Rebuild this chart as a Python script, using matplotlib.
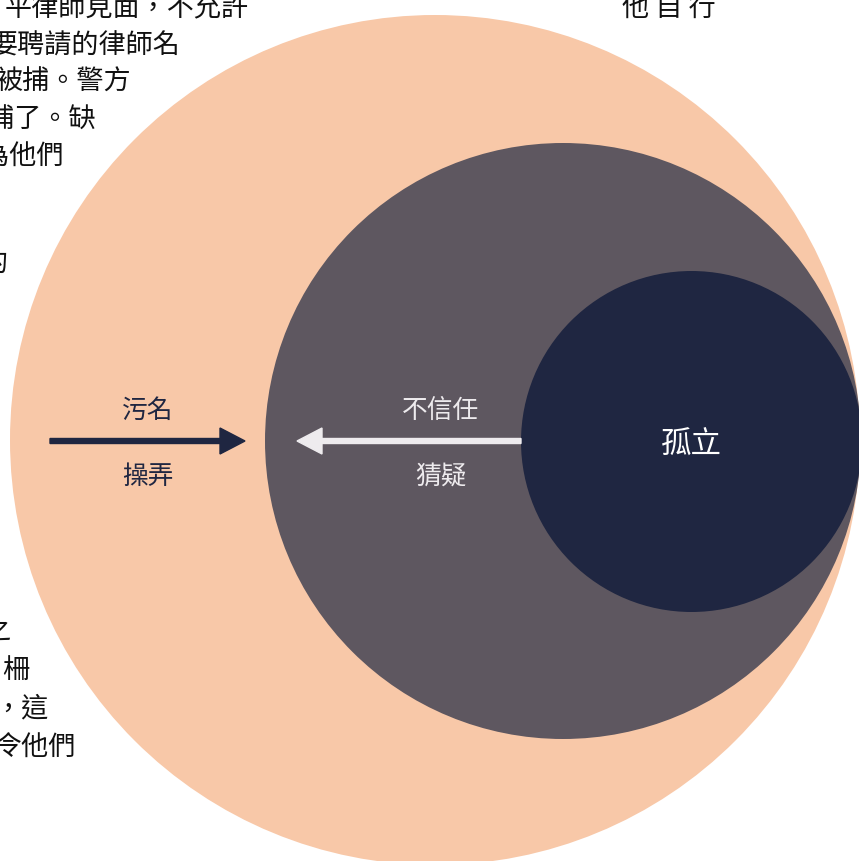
import matplotlib
matplotlib.use("Agg")
import matplotlib.pyplot as plt
from matplotlib.patches import Circle

plt.rcParams['font.family'] = ['Noto Sans CJK TC', 'DejaVu Sans']

# ---- content ----
circle_names = ["外圈", "中圈", "孤立"]
circle_colors = ["#F8C8A8", "#5E5760", "#1F2641"]
outer_labels = ["污名", "操弄"]
middle_labels = ["不信任", "猜疑"]
center_label = "孤立"
left_top_lines = ["平律師見面，不允許", "要聘請的律師名", "被捕。警方", "逮捕了。缺", "認為他們", "的"]
left_bottom_lines = ["之", "柵", "，這", "令他們"]
right_top_text = "他 自 行"

W, H = 859, 861
fig = plt.figure(figsize=(W / 100, H / 100), dpi=100)
ax = fig.add_axes([0, 0, 1, 1])
ax.set_xlim(0, W)
ax.set_ylim(H, 0)
ax.axis("off")

# circles (layout)
geo = [(435, 440, 425), (563, 441, 298), (691.5, 441.5, 170.5)]
for (cx, cy, r), col in zip(geo, circle_colors):
    ax.add_patch(Circle((cx, cy), r, facecolor=col, edgecolor="none", zorder=1))

# arrows
ax.arrow(50, 441, 195, 0, width=5, head_width=26, head_length=25,
         length_includes_head=True, color="#1F2641", zorder=3)
ax.arrow(521, 441, -224, 0, width=5, head_width=26, head_length=25,
         length_includes_head=True, color="#EEEBEE", zorder=3)

fs = 18.5
ax.text(148, 411, outer_labels[0], ha="center", va="center", fontsize=fs, color="#1F2641", zorder=4)
ax.text(148, 477, outer_labels[1], ha="center", va="center", fontsize=fs, color="#1F2641", zorder=4)
ax.text(441, 411, middle_labels[0], ha="center", va="center", fontsize=fs, color="#EEEBEE", zorder=4)
ax.text(441, 477, middle_labels[1], ha="center", va="center", fontsize=fs, color="#EEEBEE", zorder=4)
ax.text(691, 445, center_label, ha="center", va="center", fontsize=22, color="white", zorder=4)

# cut-off paragraph text
pfs = 19.5
top_ends = [249, 181, 131, 96, 64, 8]
top_ys = [9, 46, 82, 120, 157, 263]
for s, xe, y in zip(left_top_lines, top_ends, top_ys):
    ax.text(xe, y, s, ha="right", va="center", fontsize=pfs, color="#111111", zorder=0)

bot_ends = [11, 29, 49, 76]
bot_ys = [631, 670, 709, 748]
for s, xe, y in zip(left_bottom_lines, bot_ends, bot_ys):
    ax.text(xe, y, s, ha="right", va="center", fontsize=pfs, color="#111111", zorder=0)

ax.text(669, 9, right_top_text, ha="center", va="center", fontsize=pfs, color="#111111", zorder=0)

fig.savefig("out.png", dpi=100)
